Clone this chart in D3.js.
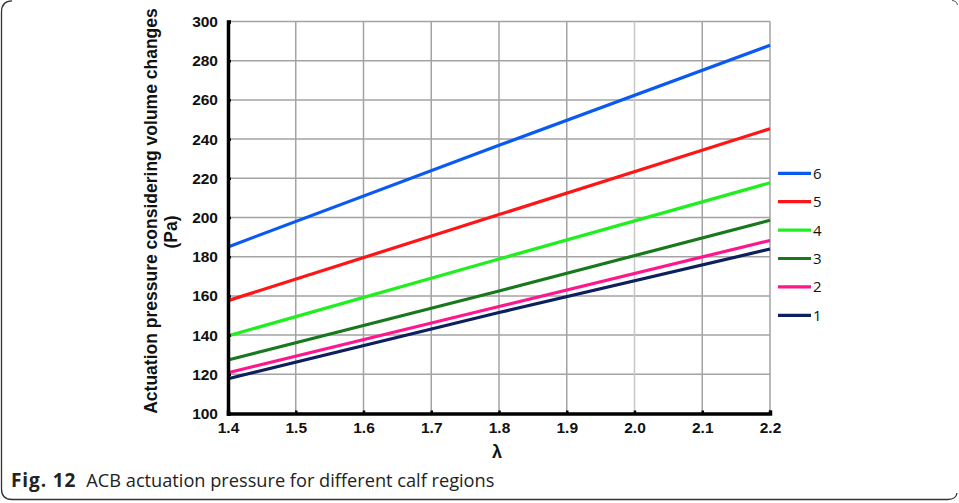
<!DOCTYPE html>
<html>
<head>
<meta charset="utf-8">
<script src="https://cdn.jsdelivr.net/npm/d3@7"></script>
<style>
  html, body { margin: 0; padding: 0; background: #fff; }
  svg { display: block; }
</style>
</head>
<body>
<svg id="chart" width="959" height="503"></svg>
<script>
// ---- data ----
const lambdaValues = [1.4, 1.8, 2.2];
const seriesNames = ["6", "5", "4", "3", "2", "1"];
const series6 = [185.0, 236.8, 287.9];
const series5 = [157.6, 201.5, 245.3];
const series4 = [139.6, 178.8, 217.7];
const series3 = [127.3, 162.5, 198.6];
const series2 = [120.8, 154.6, 188.3];
const series1 = [117.7, 151.5, 183.9];
const xTicks = [1.4, 1.5, 1.6, 1.7, 1.8, 1.9, 2.0, 2.1, 2.2];
const yTicks = [100, 120, 140, 160, 180, 200, 220, 240, 260, 280, 300];
const seriesColors = ["#0a5af2", "#ff1515", "#1fef1f", "#18781c", "#ff168c", "#0c1f5e"];
const allSeries = [series6, series5, series4, series3, series2, series1];

// ---- layout ----
const svg = d3.select("#chart");
const x = d3.scaleLinear().domain([1.4, 2.2]).range([228, 770]);
const y = d3.scaleLinear().domain([100, 300]).range([413.5, 21.5]);

// frame (partial rounded border)
svg.append("path")
  .attr("d", "M 12 0.8 Q 1.5 1 1.5 12 L 1.5 489 Q 1.5 499.5 12 499.5 L 948 499.5 Q 956 499.5 957 493")
  .attr("fill", "none").attr("stroke", "#333").attr("stroke-width", 1.3);
svg.append("path")
  .attr("d", "M 952 0.5 Q 957 1 957.5 5")
  .attr("fill", "none").attr("stroke", "#555").attr("stroke-width", 1);

// grid
const grid = svg.append("g");
grid.selectAll("line.h").data(yTicks.slice(1)).join("line")
  .attr("x1", x(1.4)).attr("x2", x(2.2))
  .attr("y1", d => y(d)).attr("y2", d => y(d))
  .attr("stroke", "#a3a3a3").attr("stroke-width", 1.5);
grid.selectAll("line.v").data(xTicks.slice(1)).join("line")
  .attr("x1", d => x(d)).attr("x2", d => x(d))
  .attr("y1", y(100)).attr("y2", y(300))
  .attr("stroke", d => d === 2.0 ? "#c8c8c8" : "#a3a3a3").attr("stroke-width", 1.5);

// series lines
const line = d3.line().x((d, i) => x(lambdaValues[i])).y(d => y(d));
svg.append("g").selectAll("path").data(allSeries).join("path")
  .attr("d", d => line(d))
  .attr("fill", "none")
  .attr("stroke", (d, i) => seriesColors[i])
  .attr("stroke-width", 3.2);

// axes
const yAxis = d3.axisLeft(y).tickValues(yTicks).tickSize(-3).tickPadding(10).tickFormat(d3.format("d"));
const gy = svg.append("g").attr("transform", `translate(${x(1.4)},0)`).call(yAxis);
gy.select(".domain").attr("stroke", "#000").attr("stroke-width", 3.5);
gy.selectAll(".tick line").attr("stroke", "#000").attr("stroke-width", 2.5);
gy.selectAll(".tick text")
  .attr("font-family", "Liberation Sans, Arial, sans-serif")
  .attr("font-weight", "bold").attr("font-size", 15.5).attr("fill", "#111");

const xAxis = d3.axisBottom(x).tickValues(xTicks).tickSize(-3).tickPadding(8).tickFormat(d3.format(".1f"));
const gx = svg.append("g").attr("transform", `translate(0,${y(100)})`).call(xAxis);
gx.select(".domain").attr("stroke", "#000").attr("stroke-width", 3.5);
gx.selectAll(".tick line").attr("stroke", "#000").attr("stroke-width", 2.5);
gx.selectAll(".tick text")
  .attr("font-family", "Liberation Sans, Arial, sans-serif")
  .attr("font-weight", "bold").attr("font-size", 15.5).attr("fill", "#111");

// axis titles
svg.append("text")
  .attr("transform", "translate(157,211) rotate(-90)")
  .attr("text-anchor", "middle")
  .attr("font-family", "Liberation Sans, Arial, sans-serif")
  .attr("font-weight", "bold").attr("font-size", 17.5).attr("fill", "#111")
  .text("Actuation pressure considering volume changes");
svg.append("text")
  .attr("transform", "translate(177,232) rotate(-90)")
  .attr("text-anchor", "middle")
  .attr("font-family", "Liberation Sans, Arial, sans-serif")
  .attr("font-weight", "bold").attr("font-size", 17.5).attr("fill", "#111")
  .text("(Pa)");
svg.append("text")
  .attr("x", 497).attr("y", 458)
  .attr("text-anchor", "middle")
  .attr("font-family", "Liberation Sans, Arial, sans-serif")
  .attr("font-weight", "bold").attr("font-size", 18).attr("fill", "#111")
  .text("λ");

// legend
const legend = svg.append("g");
const lg = legend.selectAll("g").data(seriesNames).join("g")
  .attr("transform", (d, i) => `translate(778,${173.3 + i * 28.4})`);
lg.append("line").attr("x1", 0).attr("x2", 33).attr("y1", 0).attr("y2", 0)
  .attr("stroke", (d, i) => seriesColors[i]).attr("stroke-width", 3.2);
lg.append("text").attr("x", 35).attr("y", 0).attr("dy", "0.36em")
  .attr("font-family", "Open Sans, sans-serif").attr("font-size", 15).attr("fill", "#111")
  .text(d => d);

// caption
const cap = svg.append("text").attr("x", 11).attr("y", 487)
  .attr("font-family", "Open Sans, sans-serif").attr("font-size", 18.2).attr("fill", "#222");
cap.append("tspan").attr("font-weight", "bold").attr("font-size", 19).attr("letter-spacing", 0.9).text("Fig. 12");
cap.append("tspan").attr("dx", 10).attr("letter-spacing", 0).text("ACB actuation pressure for different calf regions");
</script>
</body>
</html>
